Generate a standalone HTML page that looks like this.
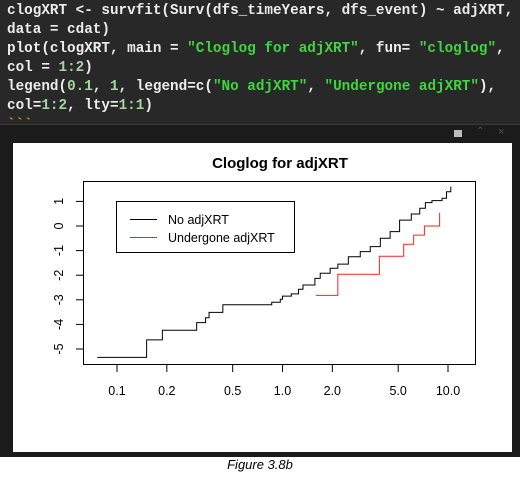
<!DOCTYPE html>
<html><head><meta charset="utf-8">
<style>
html,body{margin:0;padding:0;width:520px;height:477px;overflow:hidden;background:#fff;}
#dark{position:absolute;left:0;top:0;width:520px;height:457px;background:#1b1b1b;}
#code{position:absolute;left:0;top:0;width:520px;height:124px;background:#282828;border-bottom:1px solid #3a3a3a;}
pre{margin:0;position:absolute;left:7px;top:2px;font-family:"Liberation Mono",monospace;font-size:14.3px;line-height:19px;color:#ececec;font-weight:bold;}
.s{color:#3fd63f}.n{color:#a5d6a0}
#panel{position:absolute;left:13px;top:143px;width:499px;height:309px;background:#fff;}
#cap{position:absolute;left:0;top:457px;width:520px;text-align:center;font-family:"Liberation Sans",sans-serif;font-style:italic;font-size:13px;color:#000;}
</style></head><body>
<div id="dark"></div>
<div id="code">
<pre>clogXRT &lt;- survfit(Surv(dfs_timeYears, dfs_event) ~ adjXRT,
data = cdat)
plot(clogXRT, main = <span class="s">"Cloglog for adjXRT"</span>, fun= <span class="s">"cloglog"</span>,
col = <span class="n">1:2</span>)
legend(<span class="n">0.1</span>, <span class="n">1</span>, legend=c(<span class="s">"No adjXRT"</span>, <span class="s">"Undergone adjXRT"</span>),
col=<span class="n">1:2</span>, lty=<span class="n">1:1</span>)
<span style="color:#c8a000">&#96;&#96;&#96;</span></pre>
</div>
<div style="position:absolute;left:0;top:125px;width:520px;height:18px;">
<div style="position:absolute;left:454px;top:5px;width:8px;height:7px;background:#bbb;"></div>
<div style="position:absolute;left:476px;top:1px;color:#555;font:10px 'Liberation Sans',sans-serif;">&#8963;</div>
<div style="position:absolute;left:498px;top:1px;color:#555;font:11px 'Liberation Sans',sans-serif;">&#215;</div>
</div>
<div id="panel"></div>
<svg id="chart" width="520" height="477" style="position:absolute;left:0;top:0" font-family="Liberation Sans, sans-serif"></svg>
<div id="cap">Figure 3.8b</div>
<script>
const xTicks=[0.1,0.2,0.5,1.0,2.0,5.0,10.0];
const xTickLabels=["0.1","0.2","0.5","1.0","2.0","5.0","10.0"];
const yTicks=[1,0,-1,-2,-3,-4,-5];
const noTimes=[0.076,0.151,0.188,0.303,0.343,0.36,0.436,0.861,0.97,1.0,1.13,1.25,1.33,1.57,1.69,1.94,2.16,2.5,2.95,3.39,3.9,4.47,5.1,6.0,6.75,7.3,8.0,9.2,9.8,10.4];
const noVals=[-5.34,-4.63,-4.24,-3.93,-3.73,-3.51,-3.2,-3.10,-2.98,-2.85,-2.76,-2.57,-2.40,-2.13,-1.92,-1.72,-1.55,-1.25,-1.04,-0.84,-0.50,-0.23,0.24,0.49,0.72,0.95,1.03,1.13,1.39,1.60];
const undTimes=[1.59,2.16,3.85,5.4,6.2,7.2,8.9];
const undVals=[-2.82,-1.96,-1.23,-0.74,-0.37,0.0,0.54];

const NS="http://www.w3.org/2000/svg";
const svg=document.getElementById('chart');
function xs(v){return 117+(Math.log10(v)+1)*165.5;}
function ys(v){return 226-24.6*v;}
function mk(tag,attrs,parent){const e=document.createElementNS(NS,tag);for(const k in attrs)e.setAttribute(k,attrs[k]);(parent||svg).appendChild(e);return e;}

const title=mk('text',{x:280,y:168,'text-anchor':'middle','font-size':15,'font-weight':'bold',fill:'#000'});
title.textContent='Cloglog for adjXRT';



const box=mk('rect',{x:83.5,y:181.5,width:392,height:183,fill:'none',stroke:'#000','stroke-width':1});



xTicks.forEach((v,i)=>{
  const x=xs(v);
  const l=mk('line',{x1:x,x2:x,y1:365,y2:372,stroke:'#000'});
  
  
  const tx=mk('text',{x:x,y:395,'text-anchor':'middle','font-size':12.5,fill:'#000'});
  tx.textContent=xTickLabels[i];
  
  
});
yTicks.forEach(v=>{
  const y=ys(v);
  const l=mk('line',{x1:76,x2:83,y1:y,y2:y,stroke:'#000'});
  
  
  const tx=mk('text',{x:0,y:0,'text-anchor':'middle','font-size':12.5,fill:'#000',transform:'translate(63,'+y+') rotate(-90)'});
  tx.textContent=String(v);
  
  
});

function stepPath(ts,vs){
  let d='M'+xs(ts[0])+','+ys(vs[0]);
  for(let i=1;i<ts.length;i++){d+=' H'+xs(ts[i])+' V'+ys(vs[i]);}
  return d;
}
const p1=mk('path',{d:stepPath(noTimes,noVals),fill:'none',stroke:'#000','stroke-width':1});


const p2=mk('path',{d:stepPath(undTimes,undVals),fill:'none',stroke:'#ff2020','stroke-width':1});



const g=mk('g',{});


mk('rect',{x:116.5,y:201.5,width:178,height:51,fill:'#fff',stroke:'#000'},g);
const legLabels=["No adjXRT","Undergone adjXRT"];
const legColors=["#000","#ff2020"];
legLabels.forEach((s,i)=>{
  const y=219.5+i*18;
  const l=mk('line',{x1:130,x2:157,y1:y,y2:y,stroke:legColors[i]},g);
  
  
  const tx=mk('text',{x:168,y:y+4.5,'font-size':12.5,fill:'#000'},g);
  tx.textContent=s;
  
  
});
</script>
</body></html>
